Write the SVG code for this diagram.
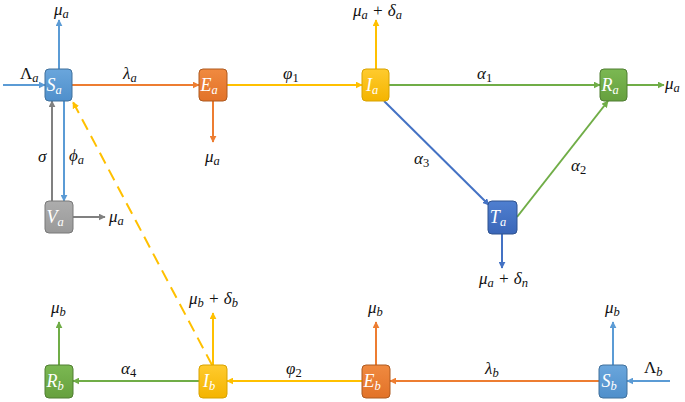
<svg xmlns="http://www.w3.org/2000/svg" width="685" height="402" viewBox="0 0 685 402">
<style>
.lbl{font-family:"Liberation Serif","DejaVu Serif",serif;font-style:italic;font-size:17px;fill:#111}
.node{font-family:"Liberation Serif","DejaVu Serif",serif;font-style:italic;font-size:18px;fill:#fff}
.sub{font-size:12.5px}
.num{font-style:normal}
.ln{fill:none;stroke-width:2}
.blue{stroke:#5B9BD5}.orange{stroke:#ED7D31}.yellow{stroke:#FFC000}.green{stroke:#70AD47}.gray{stroke:#808080}.dblue{stroke:#4472C4}
</style>
<defs>
<marker id="mBlue" viewBox="0 0 10 10" refX="9" refY="5" markerWidth="7" markerHeight="7" markerUnits="userSpaceOnUse" orient="auto"><path d="M0,0L10,5L0,10z" fill="#5B9BD5"/></marker>
<marker id="mOrange" viewBox="0 0 10 10" refX="9" refY="5" markerWidth="7" markerHeight="7" markerUnits="userSpaceOnUse" orient="auto"><path d="M0,0L10,5L0,10z" fill="#ED7D31"/></marker>
<marker id="mYellow" viewBox="0 0 10 10" refX="9" refY="5" markerWidth="7" markerHeight="7" markerUnits="userSpaceOnUse" orient="auto"><path d="M0,0L10,5L0,10z" fill="#FFC000"/></marker>
<marker id="mGreen" viewBox="0 0 10 10" refX="9" refY="5" markerWidth="7" markerHeight="7" markerUnits="userSpaceOnUse" orient="auto"><path d="M0,0L10,5L0,10z" fill="#70AD47"/></marker>
<marker id="mGray" viewBox="0 0 10 10" refX="9" refY="5" markerWidth="7" markerHeight="7" markerUnits="userSpaceOnUse" orient="auto"><path d="M0,0L10,5L0,10z" fill="#808080"/></marker>
<marker id="mDblue" viewBox="0 0 10 10" refX="9" refY="5" markerWidth="7" markerHeight="7" markerUnits="userSpaceOnUse" orient="auto"><path d="M0,0L10,5L0,10z" fill="#4472C4"/></marker>
<linearGradient id="gBlue" x1="0" y1="0" x2="0" y2="1"><stop offset="0" stop-color="#6AA6DC"/><stop offset="1" stop-color="#4F8FCB"/></linearGradient>
<linearGradient id="gOrange" x1="0" y1="0" x2="0" y2="1"><stop offset="0" stop-color="#F08A40"/><stop offset="1" stop-color="#E27228"/></linearGradient>
<linearGradient id="gYellow" x1="0" y1="0" x2="0" y2="1"><stop offset="0" stop-color="#FFCB2E"/><stop offset="1" stop-color="#F4B400"/></linearGradient>
<linearGradient id="gGreen" x1="0" y1="0" x2="0" y2="1"><stop offset="0" stop-color="#7BB852"/><stop offset="1" stop-color="#66A03E"/></linearGradient>
<linearGradient id="gGray" x1="0" y1="0" x2="0" y2="1"><stop offset="0" stop-color="#ADADAD"/><stop offset="1" stop-color="#999"/></linearGradient>
<linearGradient id="gDblue" x1="0" y1="0" x2="0" y2="1"><stop offset="0" stop-color="#4F7FD0"/><stop offset="1" stop-color="#3A66B8"/></linearGradient>
</defs>

<g id="connectors">
<line class="ln blue" x1="3" y1="85" x2="45" y2="85" marker-end="url(#mBlue)"/>
<line class="ln blue" x1="59" y1="69" x2="59" y2="20" marker-end="url(#mBlue)"/>
<line class="ln orange" x1="72" y1="85" x2="199" y2="85" marker-end="url(#mOrange)"/>
<line class="ln orange" x1="213" y1="101" x2="213" y2="142" marker-end="url(#mOrange)"/>
<line class="ln yellow" x1="227" y1="85" x2="362" y2="85" marker-end="url(#mYellow)"/>
<line class="ln yellow" x1="376" y1="69" x2="376" y2="20" marker-end="url(#mYellow)"/>
<line class="ln green" x1="389" y1="85" x2="600" y2="85" marker-end="url(#mGreen)"/>
<line class="ln green" x1="627" y1="85" x2="664" y2="85" marker-end="url(#mGreen)"/>
<line class="ln dblue" x1="384" y1="101" x2="489" y2="205" marker-end="url(#mDblue)"/>
<line class="ln green" x1="517" y1="217" x2="608" y2="101" marker-end="url(#mGreen)"/>
<line class="ln dblue" x1="502" y1="234" x2="502" y2="268" marker-end="url(#mDblue)"/>
<line class="ln gray" x1="52" y1="201" x2="52" y2="101" marker-end="url(#mGray)"/>
<line class="ln blue" x1="64" y1="101" x2="64" y2="201" marker-end="url(#mBlue)"/>
<line class="ln gray" x1="73" y1="217" x2="105" y2="217" marker-end="url(#mGray)"/>
<line class="ln yellow" x1="212" y1="365" x2="73" y2="102" stroke-dasharray="12,7" marker-end="url(#mYellow)"/>
<line class="ln yellow" x1="213" y1="365" x2="213" y2="313" marker-end="url(#mYellow)"/>
<line class="ln green" x1="59" y1="365" x2="59" y2="322" marker-end="url(#mGreen)"/>
<line class="ln green" x1="199" y1="381" x2="73" y2="381" marker-end="url(#mGreen)"/>
<line class="ln yellow" x1="362" y1="381" x2="227" y2="381" marker-end="url(#mYellow)"/>
<line class="ln orange" x1="376" y1="365" x2="376" y2="322" marker-end="url(#mOrange)"/>
<line class="ln orange" x1="599" y1="381" x2="390" y2="381" marker-end="url(#mOrange)"/>
<line class="ln blue" x1="613" y1="365" x2="613" y2="322" marker-end="url(#mBlue)"/>
<line class="ln blue" x1="670" y1="381" x2="627" y2="381" marker-end="url(#mBlue)"/>
</g>

<g id="labels">
<text class="lbl" x="20" y="79"><tspan class="num">Λ</tspan><tspan class="sub" dy="3">a</tspan></text>
<text class="lbl" x="54" y="15">μ<tspan class="sub" dy="3">a</tspan></text>
<text class="lbl" x="123" y="79">λ<tspan class="sub" dy="3">a</tspan></text>
<text class="lbl" x="205" y="162">μ<tspan class="sub" dy="3">a</tspan></text>
<text class="lbl" x="283" y="79">φ<tspan class="sub num" dy="3">1</tspan></text>
<text class="lbl" x="353" y="16">μ<tspan class="sub" dy="3">a</tspan><tspan dy="-3"> + δ</tspan><tspan class="sub" dy="3">a</tspan></text>
<text class="lbl" x="477" y="79">α<tspan class="sub num" dy="3">1</tspan></text>
<text class="lbl" x="665" y="89">μ<tspan class="sub" dy="3">a</tspan></text>
<text class="lbl" x="414" y="164">α<tspan class="sub num" dy="3">3</tspan></text>
<text class="lbl" x="571" y="171">α<tspan class="sub num" dy="3">2</tspan></text>
<text class="lbl" x="479" y="284">μ<tspan class="sub" dy="3">a</tspan><tspan dy="-3"> + δ</tspan><tspan class="sub" dy="3">n</tspan></text>
<text class="lbl" x="38" y="162">σ</text>
<text class="lbl" x="69" y="161">ϕ<tspan class="sub" dy="3">a</tspan></text>
<text class="lbl" x="109" y="222">μ<tspan class="sub" dy="3">a</tspan></text>
<text class="lbl" x="189" y="304">μ<tspan class="sub" dy="3">b</tspan><tspan dy="-3"> + δ</tspan><tspan class="sub" dy="3">b</tspan></text>
<text class="lbl" x="51" y="313">μ<tspan class="sub" dy="3">b</tspan></text>
<text class="lbl" x="121" y="374">α<tspan class="sub num" dy="3">4</tspan></text>
<text class="lbl" x="286" y="374">φ<tspan class="sub num" dy="3">2</tspan></text>
<text class="lbl" x="368" y="313">μ<tspan class="sub" dy="3">b</tspan></text>
<text class="lbl" x="485" y="374">λ<tspan class="sub" dy="3">b</tspan></text>
<text class="lbl" x="605" y="313">μ<tspan class="sub" dy="3">b</tspan></text>
<text class="lbl" x="644" y="373"><tspan class="num">Λ</tspan><tspan class="sub" dy="3">b</tspan></text>
</g>

<g id="Sa"><rect x="45" y="69" width="27" height="32" rx="4" fill="url(#gBlue)" stroke="#41719C" stroke-width="1"/><text class="node" x="54" y="91" text-anchor="middle">S<tspan class="sub" dy="3">a</tspan></text></g>
<g id="Ea"><rect x="199" y="69" width="28" height="32" rx="4" fill="url(#gOrange)" stroke="#AE5A21" stroke-width="1"/><text class="node" x="209" y="91" text-anchor="middle">E<tspan class="sub" dy="3">a</tspan></text></g>
<g id="Ia"><rect x="362" y="69" width="27" height="32" rx="4" fill="url(#gYellow)" stroke="#D9A300" stroke-width="1"/><text class="node" x="372" y="91" text-anchor="middle">I<tspan class="sub" dy="3">a</tspan></text></g>
<g id="Ra"><rect x="600" y="69" width="27" height="32" rx="4" fill="url(#gGreen)" stroke="#507E32" stroke-width="1"/><text class="node" x="610" y="91" text-anchor="middle">R<tspan class="sub" dy="3">a</tspan></text></g>
<g id="Va"><rect x="45" y="201" width="28" height="32" rx="4" fill="url(#gGray)" stroke="#787878" stroke-width="1"/><text class="node" x="55" y="223" text-anchor="middle">V<tspan class="sub" dy="3">a</tspan></text></g>
<g id="Ta"><rect x="488" y="201" width="29" height="33" rx="4" fill="url(#gDblue)" stroke="#2F528F" stroke-width="1"/><text class="node" x="498" y="223" text-anchor="middle">T<tspan class="sub" dy="3">a</tspan></text></g>
<g id="Rb"><rect x="45" y="365" width="28" height="33" rx="4" fill="url(#gGreen)" stroke="#507E32" stroke-width="1"/><text class="node" x="55" y="387" text-anchor="middle">R<tspan class="sub" dy="3">b</tspan></text></g>
<g id="Ib"><rect x="199" y="365" width="28" height="33" rx="4" fill="url(#gYellow)" stroke="#D9A300" stroke-width="1"/><text class="node" x="209" y="387" text-anchor="middle">I<tspan class="sub" dy="3">b</tspan></text></g>
<g id="Eb"><rect x="362" y="365" width="28" height="33" rx="4" fill="url(#gOrange)" stroke="#AE5A21" stroke-width="1"/><text class="node" x="372" y="387" text-anchor="middle">E<tspan class="sub" dy="3">b</tspan></text></g>
<g id="Sb"><rect x="599" y="365" width="28" height="33" rx="4" fill="url(#gBlue)" stroke="#41719C" stroke-width="1"/><text class="node" x="609" y="387" text-anchor="middle">S<tspan class="sub" dy="3">b</tspan></text></g>
</svg>
